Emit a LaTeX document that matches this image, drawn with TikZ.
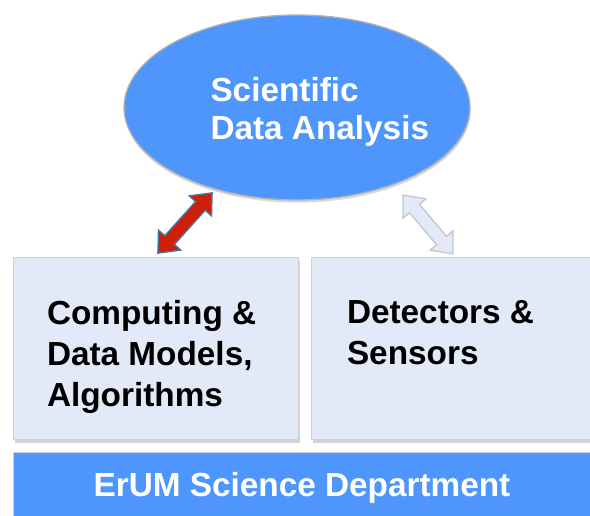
\documentclass[tikz,border=0pt]{standalone}
\usepackage{fontspec}
\setmainfont{Liberation Sans}
\usetikzlibrary{positioning,shapes.geometric,shadows}

\definecolor{ovalblue}{RGB}{79,150,252}
\definecolor{boxfill}{RGB}{225,234,246}
\definecolor{boxline}{RGB}{205,210,218}
\definecolor{arrowred}{RGB}{204,32,8}
\definecolor{arrowedge}{RGB}{70,120,165}
\definecolor{paleedge}{RGB}{195,200,208}

\tikzset{every picture/.style={line width=0.75pt}}
\tikzset{
  oval/.style={ellipse, fill=ovalblue, draw=gray!60, line width=1pt,
    minimum width=259.5pt, minimum height=138.75pt, inner sep=0pt,
    drop shadow={opacity=0.3, shadow xshift=0.5pt, shadow yshift=-2pt}},
  field/.style={rectangle, fill=boxfill, draw=boxline, inner sep=0pt,
    minimum width=213.75pt, minimum height=136.5pt,
    drop shadow={opacity=0.35, shadow xshift=1.5pt, shadow yshift=-2pt}},
  basebar/.style={rectangle, fill=ovalblue, draw=boxline, inner sep=0pt,
    minimum width=433.5pt, minimum height=52.5pt, text=white,
    font=\fontsize{25pt}{30pt}\selectfont\bfseries},
  fieldtext/.style={anchor=north west, inner sep=0pt, align=left,
    font=\fontsize{25pt}{30.75pt}\selectfont\bfseries},
  ovaltext/.style={anchor=north west, inner sep=0pt, align=left, text=white,
    font=\fontsize{25pt}{28.5pt}\selectfont\bfseries},
  % block arrow with two heads, #1 = half length
  pics/duallink/.style={code={
    \path[pic actions, line width=1pt, line join=miter]
      (-#1,0) -- ({-#1+17.5},-15) -- ({-#1+17.5},-6.5) -- ({#1-17.5},-6.5)
      -- ({#1-17.5},-15) -- (#1,0) -- ({#1-17.5},15) -- ({#1-17.5},6.5)
      -- ({-#1+17.5},6.5) -- ({-#1+17.5},15) -- cycle;
  }},
  redlink/.style={fill=arrowred, draw=arrowedge},
  palelink/.style={fill=boxfill, draw=paleedge}
}

\begin{document}
\begin{tikzpicture}[x=0.75pt,y=0.75pt,yscale=-1,xscale=1]
  \useasboundingbox (0,0) rectangle (590,516);

  % boxes
  \node[field] (comp) at (155.5,349) {};
  \node[field, minimum width=217.5pt, right=9pt of comp] (det) {};
  \node[basebar, below=9pt of comp.south west, anchor=north west] (erum) {ErUM Science Department};

  % oval on top
  \node[oval] (sda) at (297,107.5) {};
  \node[ovaltext] (sdatext) at ([shift={(-87,-31)}]sda.center) {Scientific\\Data Analysis};

  % box texts
  \node[fieldtext] (comptext) at ([shift={(34,42)}]comp.north west) {Computing \&\\Data Models,\\Algorithms};
  \node[fieldtext] (dettext) at ([shift={(36,42)}]det.north west) {Detectors \&\\Sensors};

  % links
  \coordinate (redlow) at (158,253);
  \coordinate (redhigh) at (212,193);
  \coordinate (palehigh) at (403,195);
  \coordinate (palelow) at (453,254);
  \path (redlow) -- (redhigh) pic[pos=0.5, rotate=48, redlink] {duallink=40.5};
  \path (palehigh) -- (palelow) pic[pos=0.5, rotate=-49.7, palelink] {duallink=38.5};

\end{tikzpicture}
\end{document}
